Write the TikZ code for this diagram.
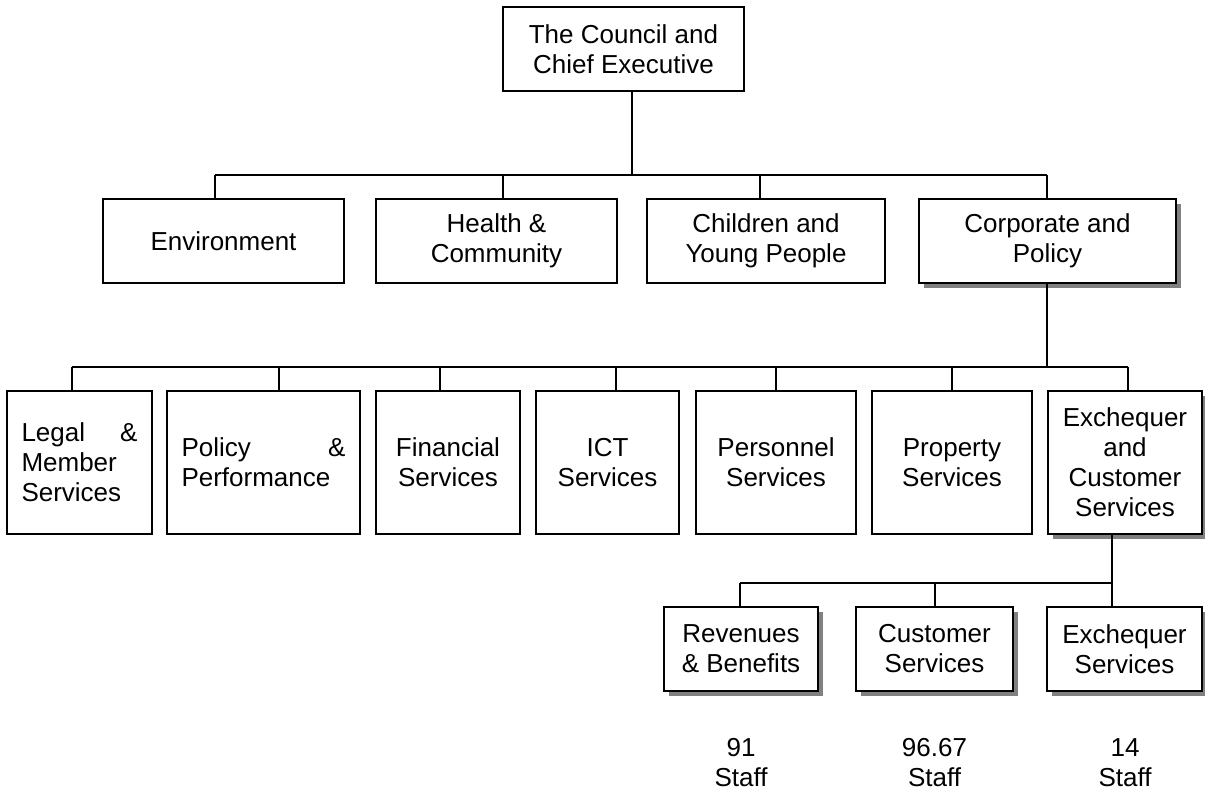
\documentclass[tikz,border=0pt]{standalone}
\usepackage{fontspec}
\setmainfont{Liberation Sans}
\usetikzlibrary{shadows}
\begin{document}
\begin{tikzpicture}[x=1pt,y=-1pt,
  every node/.style={font=\fontsize{26}{30}\selectfont},
  box/.style={draw,line width=1.6pt,fill=white,inner sep=0pt,align=center},
  shbox/.style={box,drop shadow={shadow xshift=5pt,shadow yshift=-5pt,fill=black!50,opacity=1}},
  conn/.style={line width=1.6pt}]
\useasboundingbox (0,0) rectangle (1205,798);
% level 1
\node[box,minimum width=241pt,minimum height=84pt] (top) at (623.5,49) {The Council and\\Chief Executive};
% level 2
\node[box,minimum width=241pt,minimum height=84pt] (env) at (223.5,241) {Environment};
\node[box,minimum width=241pt,minimum height=84pt] (health) at (496.5,241) {Health \&\\Community};
\node[box,minimum width=238pt,minimum height=84pt] (children) at (766,241) {Children and\\Young People};
\node[shbox,minimum width=257pt,minimum height=84pt] (corp) at (1047.5,241) {Corporate and\\Policy};
% level 3
\node[box,align=left,minimum width=145pt,minimum height=143pt] (legal) at (79.5,462.5) {\makebox[116pt]{Legal\hfill\&}\\Member\\Services};
\node[box,align=left,minimum width=193pt,minimum height=143pt] (policy) at (263.5,462.5) {\makebox[164pt]{Policy\hfill\&}\\Performance};
\node[box,minimum width=144pt,minimum height=143pt] (fin) at (448,462.5) {Financial\\Services};
\node[box,minimum width=143pt,minimum height=143pt] (ict) at (607.5,462.5) {ICT\\Services};
\node[box,minimum width=160pt,minimum height=143pt] (pers) at (776,462.5) {Personnel\\Services};
\node[box,minimum width=160pt,minimum height=143pt] (prop) at (952,462.5) {Property\\Services};
\node[shbox,minimum width=154pt,minimum height=143pt] (exc) at (1125,462.5) {Exchequer\\and\\Customer\\Services};
% level 4
\node[shbox,minimum width=154pt,minimum height=84pt] (rev) at (741,649) {Revenues\\\& Benefits};
\node[shbox,minimum width=157pt,minimum height=84pt] (cust) at (934.5,649) {Customer\\Services};
\node[shbox,minimum width=155pt,minimum height=84pt] (exs) at (1124.5,649) {Exchequer\\Services};
% staff labels
\node[align=center,inner sep=0pt] (s1) at (741,763) {91\\Staff};
\node[align=center,inner sep=0pt] (s2) at (934.5,763) {96.67\\Staff};
\node[align=center,inner sep=0pt] (s3) at (1125,763) {14\\Staff};
% bus coordinates
\coordinate (b1) at (632,175);
\coordinate (b1env) at (215,175);
\coordinate (b1hea) at (503,175);
\coordinate (b1chi) at (760,175);
\coordinate (b1cor) at (1047,175);
\coordinate (b2) at (1047,367);
\coordinate (b2leg) at (72,367);
\coordinate (b2pol) at (279,367);
\coordinate (b2fin) at (440,367);
\coordinate (b2ict) at (616,367);
\coordinate (b2per) at (776,367);
\coordinate (b2pro) at (952,367);
\coordinate (b2exc) at (1128,367);
\coordinate (b3) at (1112,583);
\coordinate (b3rev) at (740,583);
\coordinate (b3cus) at (935,583);
% connectors
\begin{scope}[conn]
\draw (top.south -| b1) -- (b1);
\draw (b1env) -- (b1cor);
\draw (b1env) -- (env.north -| b1env);
\draw (b1hea) -- (health.north -| b1hea);
\draw (b1chi) -- (children.north -| b1chi);
\draw (b1cor) -- (corp.north -| b1cor);
\draw (corp.south -| b2) -- (b2);
\draw (b2leg) -- (b2exc);
\draw (b2leg) -- (legal.north -| b2leg);
\draw (b2pol) -- (policy.north -| b2pol);
\draw (b2fin) -- (fin.north -| b2fin);
\draw (b2ict) -- (ict.north -| b2ict);
\draw (b2per) -- (pers.north -| b2per);
\draw (b2pro) -- (prop.north -| b2pro);
\draw (b2exc) -- (exc.north -| b2exc);
\draw (exc.south -| b3) -- (exs.north -| b3);
\draw (b3rev) -- (b3);
\draw (b3rev) -- (rev.north -| b3rev);
\draw (b3cus) -- (cust.north -| b3cus);
\end{scope}
\end{tikzpicture}
\end{document}
